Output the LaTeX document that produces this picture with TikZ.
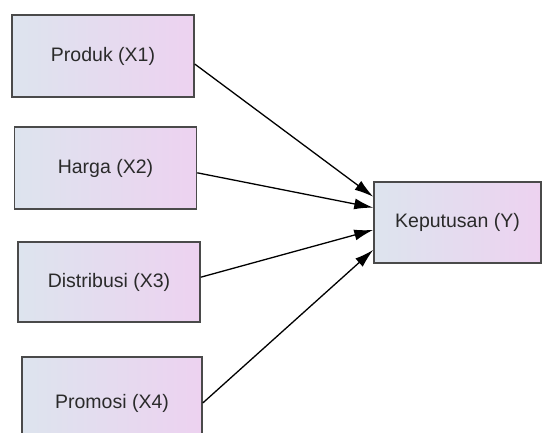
\documentclass[tikz,border=0pt]{standalone}
\usepackage{fontspec}
\setmainfont{Liberation Sans}
\usepackage{tikz}
\usetikzlibrary{arrows.meta}
\definecolor{kiri}{HTML}{DDE4EE}
\definecolor{kanan}{HTML}{EDD2F0}
\definecolor{garis}{HTML}{4A4A4A}
\definecolor{teks}{HTML}{2A2A2A}

\begin{document}
\begin{tikzpicture}[x=1pt,y=-1pt,>/.tip={Latex[length=19pt,width=11pt]},
	kotak/.style={draw=garis,line width=1.5pt,left color=kiri,right color=kanan,minimum width=182pt,minimum height=82pt,text=teks,font=\fontsize{19.5}{22}\selectfont}]
	\useasboundingbox (0,0) rectangle (543,432);
	\draw (103,56) node (produk) [kotak] {Produk (X1)};
	\draw (105.5,168) node (harga) [kotak] {Harga (X2)};
	\draw (109,282) node (distribusi) [kotak,minimum height=80pt] {Distribusi (X3)};
	\draw (112,403) node (promosi) [kotak,minimum width=180pt,minimum height=92pt] {Promosi (X4)};
	\draw (457.5,222.5) node (keputusan) [kotak,minimum width=167pt,minimum height=81pt] {Keputusan (Y)};
	\draw[->,line width=1.3pt] (produk.-5.6) -- (keputusan.163);
	\draw[->,line width=1.3pt] (harga.-3.2) -- (keputusan.170.8);
	\draw[->,line width=1.3pt] (distribusi.3.1) -- (keputusan.185.1);
	\draw[->,line width=1.3pt] (promosi.east) -- (keputusan.198.2);
\end{tikzpicture}
\end{document}
